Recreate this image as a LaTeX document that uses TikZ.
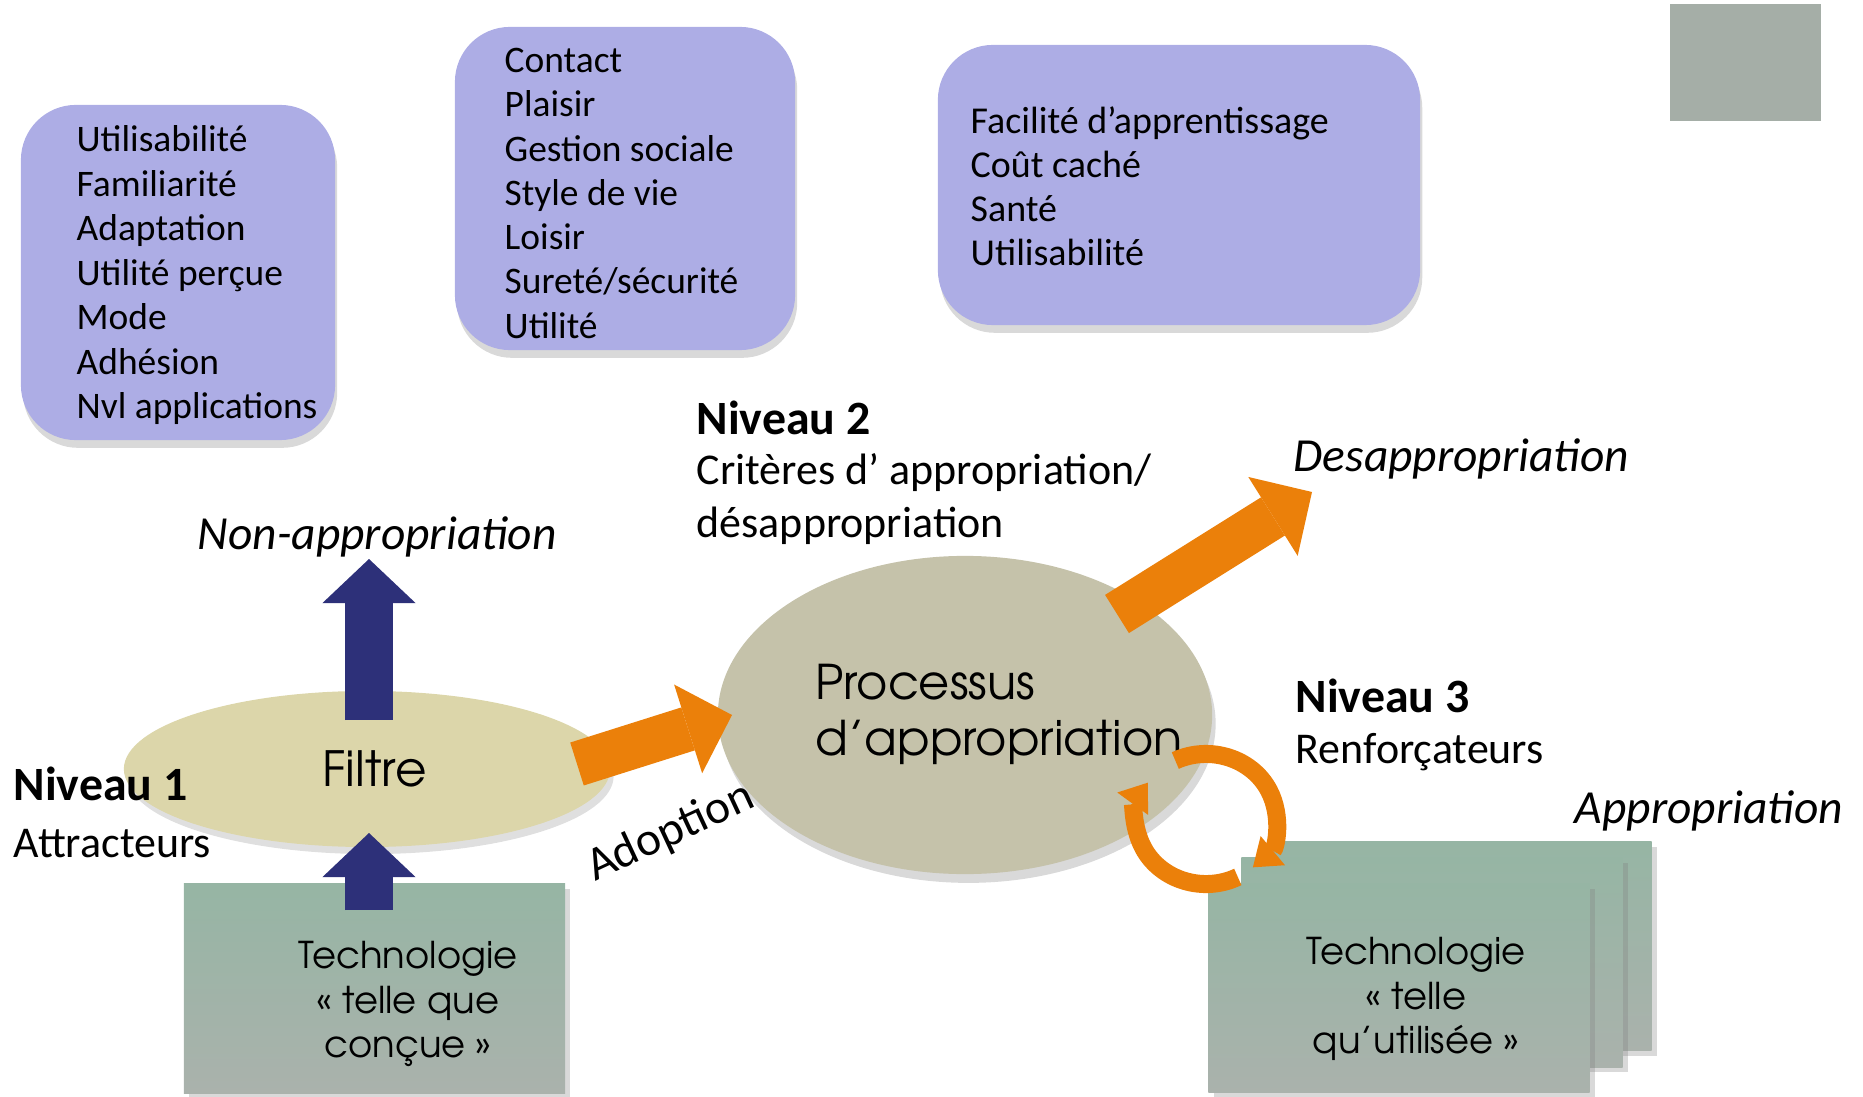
\documentclass[tikz,border=0pt]{standalone}
\usepackage{fontspec}
\setmainfont{Carlito}
\newfontfamily\gothic{TeX Gyre Adventor}
\usetikzlibrary{arrows.meta,shapes.geometric,shadows}

\definecolor{critfill}{RGB}{173,173,229}
\definecolor{filtrefill}{RGB}{220,214,170}
\definecolor{procfill}{RGB}{197,194,170}
\definecolor{techtop}{RGB}{150,181,164}
\definecolor{techbot}{RGB}{170,178,172}
\definecolor{logofill}{RGB}{165,174,167}
\definecolor{navy}{RGB}{45,48,121}
\definecolor{orangeA}{RGB}{235,128,10}

\tikzset{
  critbox/.style={rounded corners=0.55cm, fill=critfill, inner sep=0pt,
    drop shadow={opacity=0.3, shadow xshift=0.6pt, shadow yshift=-2.2pt}},
  critlist/.style={anchor=base west, inner sep=0pt, align=left},
  techbox/.style={top color=techtop, bottom color=techbot, inner sep=0pt,
    minimum width=3.81cm, minimum height=2.09cm,
    drop shadow={opacity=0.3, shadow xshift=1.5pt, shadow yshift=-1.5pt}},
  techtext/.style={font=\gothic\fontsize{10.5}{12.7}\selectfont, align=center},
  level/.style={anchor=base west, inner sep=0pt,
    font=\bfseries\fontsize{13.6}{15}\selectfont},
  leveltext/.style={anchor=base west, inner sep=0pt, align=left,
    font=\fontsize{12.5}{14.8}\selectfont},
  outcome/.style={anchor=base west, inner sep=0pt,
    font=\itshape\fontsize{13.5}{16}\selectfont},
  bluearrow/.style={draw=navy, line width=0.47cm,
    -{Triangle[length=0.44cm, width=0.93cm, line width=0pt]}},
  orangearrow/.style={draw=orangeA, line width=0.45cm,
    -{Triangle[length=0.46cm, width=0.93cm, line width=0pt]}},
  cyclearrow/.style={draw=orangeA, line width=0.18cm,
    -{Triangle[length=0.26cm, width=0.38cm, line width=0pt]}},
}

\begin{document}
\begin{tikzpicture}[x=0.01cm, y=0.01cm]
    \useasboundingbox (0,0) rectangle (1863,1096);

    % criteria boxes (lists placed by their last baseline)
    \node[critbox, minimum width=3.14cm, minimum height=3.35cm] (attrbox) at (178,823.5) {};
    \node[critlist, font=\fontsize{10.65}{12.67}\selectfont] (attrlist) at (76,677)
        {Utilisabilité\\Familiarité\\Adaptation\\Utilité perçue\\Mode\\Adhésion\\Nvl applications};
    \node[critbox, minimum width=3.40cm, minimum height=3.23cm] (critbox) at (625,907.5) {};
    \node[critlist, font=\fontsize{10.65}{12.57}\selectfont] (critlist) at (504,758)
        {Contact\\Plaisir\\Gestion sociale\\Style de vie\\Loisir\\Sureté/sécurité\\Utilité};
    \node[critbox, minimum width=4.82cm, minimum height=2.80cm] (renfbox) at (1179,911) {};
    \node[critlist, font=\fontsize{10.8}{12.6}\selectfont] (renflist) at (970,830)
        {Facilité d’apprentissage\\Coût caché\\Santé\\Utilisabilité};

    \node[fill=logofill, minimum width=1.51cm, minimum height=1.17cm, inner sep=0pt] (logo) at (1745.5,1033.5) {};

    % technology boxes
    \node[techbox] (techA) at (374.5,107.5) {};
    \node[techtext] (techAtxt) at (408,92) {Technologie\\« telle que\\conçue »};
    \node[techbox] (techC) at (1461,150) {};
    \node[techbox] (techB) at (1432,133.5) {};
    \node[techbox] (techD) at (1399,108) {};
    \node[techtext] (techDtxt) at (1416,97) {Technologie\\« telle\\qu’utilisée »};

    % ellipses
    \node[ellipse, fill=filtrefill, minimum width=4.86cm, minimum height=1.56cm, inner sep=0pt,
        drop shadow={opacity=0.25, shadow xshift=1pt, shadow yshift=-2pt},
        font=\gothic\fontsize{13.8}{16}\selectfont] (filtre) at (367,327) {\hspace{0.15cm}Filtre};
    \node[ellipse, fill=procfill, minimum width=4.94cm, minimum height=3.18cm, inner sep=0pt,
        drop shadow={opacity=0.3, shadow xshift=1pt, shadow yshift=-2.5pt}] (proc) at (965,381) {};
    \node[align=left, inner sep=0pt, font=\gothic\fontsize{13.6}{15.9}\selectfont] (proctxt) at (999,382)
        {Processus\\d’appropriation};

    % labels
    \node[level] (niv1) at (13,296) {Niveau 1};
    \node[leveltext] (niv1txt) at (13,239) {Attracteurs};
    \node[level] (niv2) at (696,662) {Niveau 2};
    \node[leveltext] (niv2txt) at (696,559) {Critères d’ appropriation/\\désappropriation};
    \node[level] (niv3) at (1295,384) {Niveau 3};
    \node[leveltext] (niv3txt) at (1295,333) {Renforçateurs};
    \node[outcome] (nonapp) at (197,547) {Non-appropriation};
    \node[outcome] (desapp) at (1293,624) {Desappropriation};
    \node[outcome] (approp) at (1574,273) {Appropriation};
    \node[anchor=base, rotate=25, inner sep=0pt, font=\fontsize{13.5}{15}\selectfont] (adopt) at (676,252) {Adoption};

    \coordinate (techin) at (369,186);
    \coordinate (filtrein) at (369,263);
    \coordinate (filtreout) at (369,376);
    \coordinate (nonappin) at (369,537);
    \coordinate (adoptout) at (577,332);
    \coordinate (adoptin) at (732,381);
    \coordinate (desout) at (1117,482);
    \coordinate (desin) at (1312,604);
    \coordinate (cyc) at (1206,277);

    % block arrows
    \draw[bluearrow] (techin) -- (filtrein);
    \draw[bluearrow] (filtreout) -- (nonappin);
    \draw[orangearrow] (adoptout) -- (adoptin);
    \draw[orangearrow] (desout) -- (desin);

    % reinforcement cycle
    \draw[cyclearrow] ([shift={(116:0.70cm and 0.65cm)}]cyc) arc[start angle=116, end angle=-48, x radius=0.70cm, y radius=0.65cm];
    \draw[cyclearrow] ([shift={(-63:0.70cm and 0.65cm)}]cyc) arc[start angle=-63, end angle=-214, x radius=0.70cm, y radius=0.65cm];

\end{tikzpicture}
\end{document}
